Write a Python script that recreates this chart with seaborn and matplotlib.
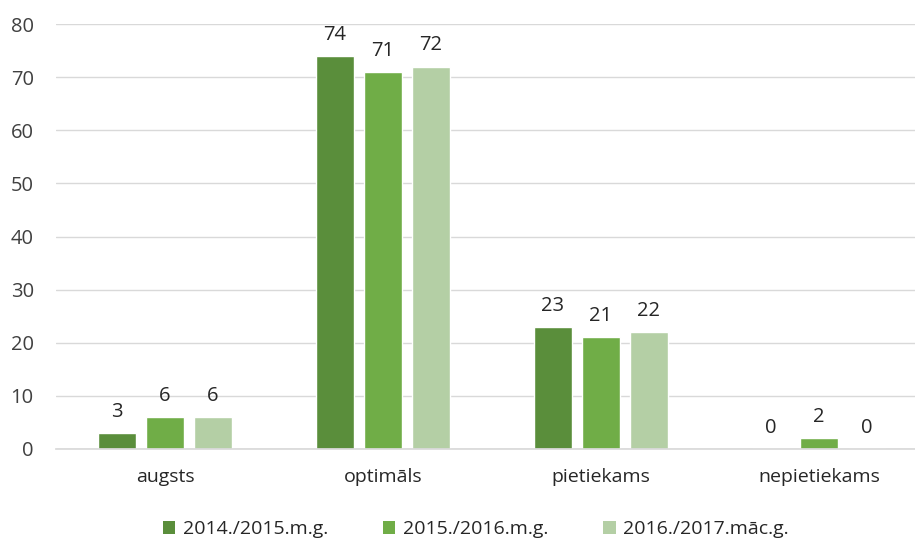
import matplotlib
matplotlib.use("Agg")
import matplotlib.pyplot as plt
import seaborn as sns
import pandas as pd
from matplotlib.patches import Patch

categories = ["augsts", "optimāls", "pietiekams", "nepietiekams"]
series_names = ["2014./2015.m.g.", "2015./2016.m.g.", "2016./2017.māc.g."]
v2014 = [3, 74, 23, 0]
v2015 = [6, 71, 21, 2]
v2016 = [6, 72, 22, 0]
colors = ["#5A8E3B", "#70AD47", "#B4CFA5"]
yticks = [0, 10, 20, 30, 40, 50, 60, 70, 80]

rows = []
for name, vals in zip(series_names, [v2014, v2015, v2016]):
    for c, v in zip(categories, vals):
        rows.append({"cat": c, "series": name, "val": v})
df = pd.DataFrame(rows)

sns.set_theme(style="white")
plt.rcParams["font.family"] = ["Open Sans", "DejaVu Sans"]

fig = plt.figure(figsize=(9.15, 5.43), dpi=100)
ax = fig.add_axes([56/915, (543-449)/543, (928-56)/915, (449-24)/543])

sns.barplot(data=df, x="cat", y="val", hue="series", palette=colors,
            order=categories, hue_order=series_names, width=0.66, gap=0.2,
            ax=ax, legend=False, errorbar=None, saturation=1)

for cont in ax.containers:
    ax.bar_label(cont, labels=[f"{int(v.get_height())}" for v in cont],
                 padding=8, fontsize=14.5, color="#262626")

ax.set_ylim(0, 80)
ax.set_xlim(-0.5, 3.5)
ax.set_yticks(yticks)
ax.set_yticklabels([str(t) for t in yticks], fontsize=14.5, color="#404040")
ax.tick_params(axis="x", labelsize=14, colors="#262626", length=0, pad=14)
ax.tick_params(axis="y", length=0, pad=16)
ax.set_xlabel("")
ax.set_ylabel("")
ax.yaxis.grid(True, color="#D9D9D9", linewidth=1)
ax.set_axisbelow(True)
for s in ["top", "right", "left"]:
    ax.spines[s].set_visible(False)
ax.spines["bottom"].set_color("#D9D9D9")

handles = [Patch(facecolor=c, edgecolor="none") for c in colors]
fig.legend(handles, series_names, loc="center", bbox_to_anchor=(0.52, 0.025),
           ncol=3, frameon=False, fontsize=14, handlelength=0.65, handleheight=0.65,
           columnspacing=2.8, handletextpad=0.4, labelcolor="#262626")

fig.savefig("out.png", dpi=100)
